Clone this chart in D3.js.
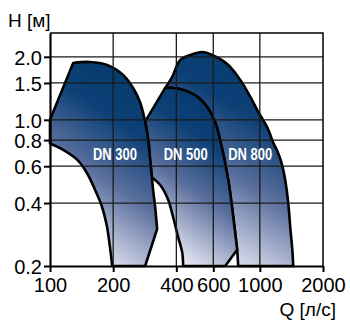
<!DOCTYPE html>
<html><head><meta charset="utf-8">
<script src="https://cdn.jsdelivr.net/npm/d3@7"></script>
<style>
body{margin:0;background:#fff}
svg{display:block}
text{font-family:"Liberation Sans",Arial,Helvetica,sans-serif}
</style></head>
<body><svg id="c" width="350" height="322"></svg>
<script>
// ---- data ----
const xTicks = [100, 200, 400, 600, 1000, 2000];
const xTickLabels = ["100", "200", "400", "600", "1000", "2000"];
const yTicks = [0.2, 0.4, 0.6, 0.8, 1.0, 1.5, 2.0];
const yTickLabels = ["0.2", "0.4", "0.6", "0.8", "1.0", "1.5", "2.0"];
const seriesNames = ["DN 300", "DN 500", "DN 800"];
const labelQ = [204, 443, 899];
const labelH = [0.643, 0.643, 0.643];

// DN 300 envelope  [Q l/s, H m]
const dn300Left = [[100, 1.0], [129, 1.87]];
const dn300Top = [[129, 1.87], [155, 1.89], [187, 1.83], [223, 1.64], [249, 1.42], [269, 1.21], [284, 0.98], [294, 0.80], [300, 0.643], [306, 0.53], [310, 0.462], [317, 0.383], [324, 0.30]];
const dn300Foot = [[324, 0.30], [284, 0.2], [198, 0.2]];
const dn300Inner = [[198, 0.2], [193, 0.247], [187, 0.307], [177, 0.383], [164, 0.462], [150, 0.557], [135, 0.643], [115, 0.72], [100, 0.77]];

// DN 500 envelope
const dn500Left = [[284, 0.98], [354, 1.42]];
const dn500Top = [[354, 1.42], [386, 1.42], [431, 1.39], [503, 1.29], [561, 1.15], [613, 0.97], [647, 0.80], [707, 0.516], [747, 0.343], [780, 0.239]];
const dn500Foot = [[780, 0.239], [684, 0.2], [431, 0.2]];
const dn500Inner = [[431, 0.2], [427, 0.231], [408, 0.275], [386, 0.343], [366, 0.414], [335, 0.488], [306, 0.53]];
const dn500Back = [[306, 0.53], [300, 0.643], [294, 0.80], [284, 0.98]];

// DN 800 envelope
const dn800Top = [[354, 1.42], [382, 1.60], [417, 1.93], [466, 2.04], [531, 2.11], [593, 2.04], [707, 1.83], [807, 1.55], [900, 1.29], [983, 1.09], [1085, 0.92], [1159, 0.776], [1211, 0.71], [1265, 0.629], [1321, 0.516], [1366, 0.40], [1396, 0.307], [1428, 0.239], [1443, 0.2]];
const dn800Foot = [[1443, 0.2], [789, 0.2], [780, 0.239]];

// ---- layout ----
const svg = d3.select("#c");
const x = d3.scaleLog().domain([100, 2000]).range([50, 323]);
const y = d3.scaleLog().domain([0.2, 2.6]).range([266, 33]);

const defs = svg.append("defs");
function grad(id) {
  const g = defs.append("linearGradient").attr("id", id)
    .attr("x1", 0.68).attr("y1", 0).attr("x2", 0.32).attr("y2", 1);
  [[0, "#053a6e"], [0.27, "#0c4076"], [0.56, "#5a6f9d"], [0.8, "#b2bad4"], [1, "#f6f6fb"]]
    .forEach(s => g.append("stop").attr("offset", s[0]).attr("stop-color", s[1]));
}
grad("g300"); grad("g500"); grad("g800");

function shapePath(segs) {
  let d = "";
  segs.forEach((s, i) => {
    const gen = d3.line().x(p => x(p[0])).y(p => y(p[1]))
      .curve(s.c ? d3.curveCatmullRom.alpha(0.5) : d3.curveLinear);
    let str = gen(s.p);
    if (i > 0) str = str.replace(/^M/, "L");
    d += str;
  });
  return d + "Z";
}

const shapes = [
  {id: "g800", segs: [{p: dn800Top, c: true}, {p: dn800Foot, c: false}, {p: dn500Top.slice().reverse(), c: true}]},
  {id: "g500", segs: [{p: dn500Left, c: false}, {p: dn500Top, c: true}, {p: dn500Foot, c: false}, {p: dn500Inner, c: true}, {p: dn500Back, c: true}]},
  {id: "g300", segs: [{p: dn300Left, c: false}, {p: dn300Top, c: true}, {p: dn300Foot, c: false}, {p: dn300Inner, c: true}]}
];

const gShapes = svg.append("g");
shapes.forEach(s => {
  gShapes.append("path").attr("d", shapePath(s.segs))
    .attr("fill", `url(#${s.id})`).attr("stroke", "#000")
    .attr("stroke-width", 2.6).attr("stroke-linejoin", "round");
});

// grid
const grid = svg.append("g").attr("stroke", "#1a1a1a").attr("stroke-width", 1.3);
xTicks.slice(1, -1).forEach(v => grid.append("line")
  .attr("x1", x(v)).attr("x2", x(v)).attr("y1", y.range()[1]).attr("y2", y.range()[0]));
yTicks.slice(1).forEach(v => grid.append("line")
  .attr("x1", x.range()[0]).attr("x2", x.range()[1]).attr("y1", y(v)).attr("y2", y(v)));
// top & right frame
svg.append("path")
  .attr("d", `M${x.range()[0]},${y.range()[1]}H${x.range()[1]}V${y.range()[0]}`)
  .attr("fill", "none").attr("stroke", "#000").attr("stroke-width", 1.5);

// axes
const xAxis = svg.append("g").attr("transform", `translate(0,${y.range()[0]})`)
  .call(d3.axisBottom(x).tickValues(xTicks).tickFormat((d, i) => xTickLabels[i])
    .tickSize(6).tickSizeOuter(0).tickPadding(6));
const yAxis = svg.append("g").attr("transform", `translate(${x.range()[0]},0)`)
  .call(d3.axisLeft(y).tickValues(yTicks).tickFormat((d, i) => yTickLabels[i])
    .tickSize(6).tickSizeOuter(0).tickPadding(2));
[xAxis, yAxis].forEach(a => {
  a.select(".domain").attr("stroke", "#000").attr("stroke-width", 2.2);
  a.selectAll(".tick line").attr("stroke", "#000").attr("stroke-width", 2);
  a.selectAll(".tick text").attr("fill", "#000")
    .style("font-family", '"Liberation Sans",Arial,sans-serif').style("font-size", "20px");
});
yAxis.selectAll(".tick text").attr("dy", "0.38em");

// titles
svg.append("text").attr("x", 8).attr("y", 27).text("H [м]")
  .style("font-size", "19px").attr("fill", "#000");
svg.append("text").attr("x", 336).attr("y", 316).attr("text-anchor", "end").text("Q [л/с]")
  .style("font-size", "19px").attr("fill", "#000");

// series labels
seriesNames.forEach((n, i) => {
  svg.append("text").attr("x", x(labelQ[i])).attr("y", y(labelH[i]))
    .attr("text-anchor", "middle").attr("fill", "#fff")
    .style("font-size", "16px").style("font-weight", "bold")
    .attr("textLength", 44).attr("lengthAdjust", "spacingAndGlyphs")
    .text(n);
});
</script></body></html>
